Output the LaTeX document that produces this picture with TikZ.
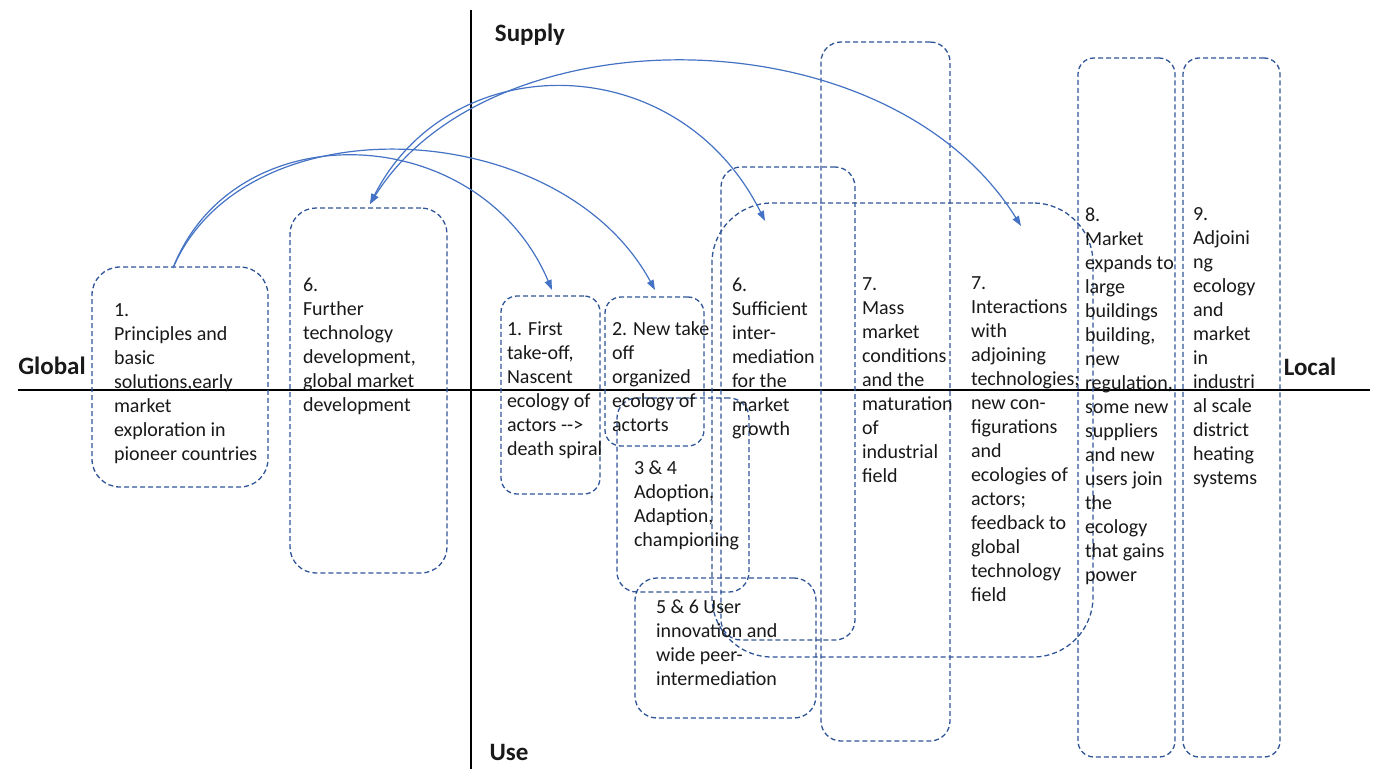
\documentclass[tikz,border=0pt]{standalone}
\usepackage{fontspec}
\setmainfont{Carlito}
\usetikzlibrary{arrows.meta}
\definecolor{boxblue}{HTML}{2F5597}
\definecolor{arrblue}{HTML}{4472C4}
\tikzset{
  box/.style={draw=boxblue, line width=1.3pt, dash pattern=on 5pt off 3pt, inner sep=0pt, outer sep=0pt},
  txt/.style={anchor=north west, inner sep=0pt, outer sep=0pt, align=left, font=\fontsize{20}{24}\selectfont, text=black!90},
  lbl/.style={inner sep=0pt, font=\fontsize{25}{30}\selectfont\bfseries, text=black!90},
  axis/.style={line width=1.4pt, black},
  conn/.style={draw=arrblue, line width=1.2pt},
  tip/.tip={Triangle[length=10pt, width=7pt]}
}
\newcommand{\rbox}[6]{%
  \node[box, rounded corners=#6pt, minimum width={#4pt-#2pt}, minimum height={#5pt-#3pt}]
    (#1) at ({(#2+#4)/2},{(#3+#5)/2}) {};}
\begin{document}
\begin{tikzpicture}[x=1pt,y=-1pt]
\useasboundingbox (0,0) rectangle (1375,769);
% axes
\coordinate (hl) at (18,390);
\coordinate (hr) at (1370,390);
\coordinate (vt) at (471,10);
\coordinate (vb) at (471,769);
\draw[axis] (hl) -- (hr);
\draw[axis] (vt) -- (vb);
% labels
\node[lbl] (supply) at (530,35) {Supply};
\node[lbl] (use) at (509,752) {Use};
\node[lbl] (global) at (52,366) {Global};
\node[lbl] (local) at (1310,367) {Local};
% boxes
\rbox{A}{92}{267}{268}{487}{28}
\rbox{B}{290}{208}{447}{573}{26}
\rbox{C}{501}{296}{600}{494}{16}
\rbox{D}{605}{297}{704}{446}{16}
\rbox{E}{617}{398}{749}{592}{20}
\rbox{F}{635}{578}{816}{718}{22}
\rbox{G}{721}{167}{855}{640}{20}
\rbox{H}{712}{203}{1093}{657}{60}
\rbox{I}{821}{42}{950}{741}{20}
\rbox{J}{1078}{58}{1175}{757}{16}
\rbox{K}{1183}{58}{1280}{757}{16}
% texts
\node[txt] (tA) at (114,304) {1.\\Principles and\\basic\\solutions,early\\market\\exploration in\\pioneer countries};
\node[txt] (tB) at (303,278) {6.\\Further\\technology\\development,\\global market\\development};
\node[txt] (tC) at (507,322) {1. First\\take-off,\\Nascent\\ecology of\\actors -{}-{}>\\death spiral};
\node[txt] (tD) at (612,322) {2. New take\\off\\organized\\ecology of\\actorts};
\node[txt] (tE) at (634,461) {3 \& 4\\Adoption,\\Adaption,\\championing};
\node[txt] (tF) at (656,600) {5 \& 6 User\\innovation and\\wide peer-\\intermediation};
\node[txt] (tG) at (732,278) {6.\\Sufficient\\inter-\\mediation\\for the\\market\\growth};
\node[txt] (tI) at (862,278) {7.\\Mass\\market\\conditions\\and the\\maturation\\of\\industrial\\field};
\node[txt] (tH) at (971,277) {7.\\Interactions\\with\\adjoining\\technologies;\\new con-\\figurations\\and\\ecologies of\\actors;\\feedback to\\global\\technology\\field};
\node[txt] (tJ) at (1085,208) {8.\\Market\\expands to\\large\\buildings\\building,\\new\\regulation,\\some new\\suppliers\\and new\\users join\\the\\ecology\\that gains\\power};
\node[txt] (tK) at (1193,208) {9.\\Adjoini\\ng\\ecology\\and\\market\\in\\industri\\al scale\\district\\heating\\systems};
% connector ends
\coordinate (aStart) at (173,268);
\coordinate (bEnd) at (370,204);
\coordinate (cEnd) at (552,290);
\coordinate (dEnd) at (655,290);
\coordinate (gEnd) at (765,221);
\coordinate (hEnd) at (1021,226);
% connectors
\draw[conn, -tip] (aStart) .. controls (235,110) and (480,120) .. (cEnd);
\draw[conn, -tip] (aStart) .. controls (245,100) and (560,115) .. (dEnd);
\draw[conn, tip-tip] (bEnd) .. controls (450,46) and (678,46) .. (gEnd);
\draw[conn, tip-tip] (bEnd) .. controls (490,11) and (887,11) .. (hEnd);
\end{tikzpicture}
\end{document}
